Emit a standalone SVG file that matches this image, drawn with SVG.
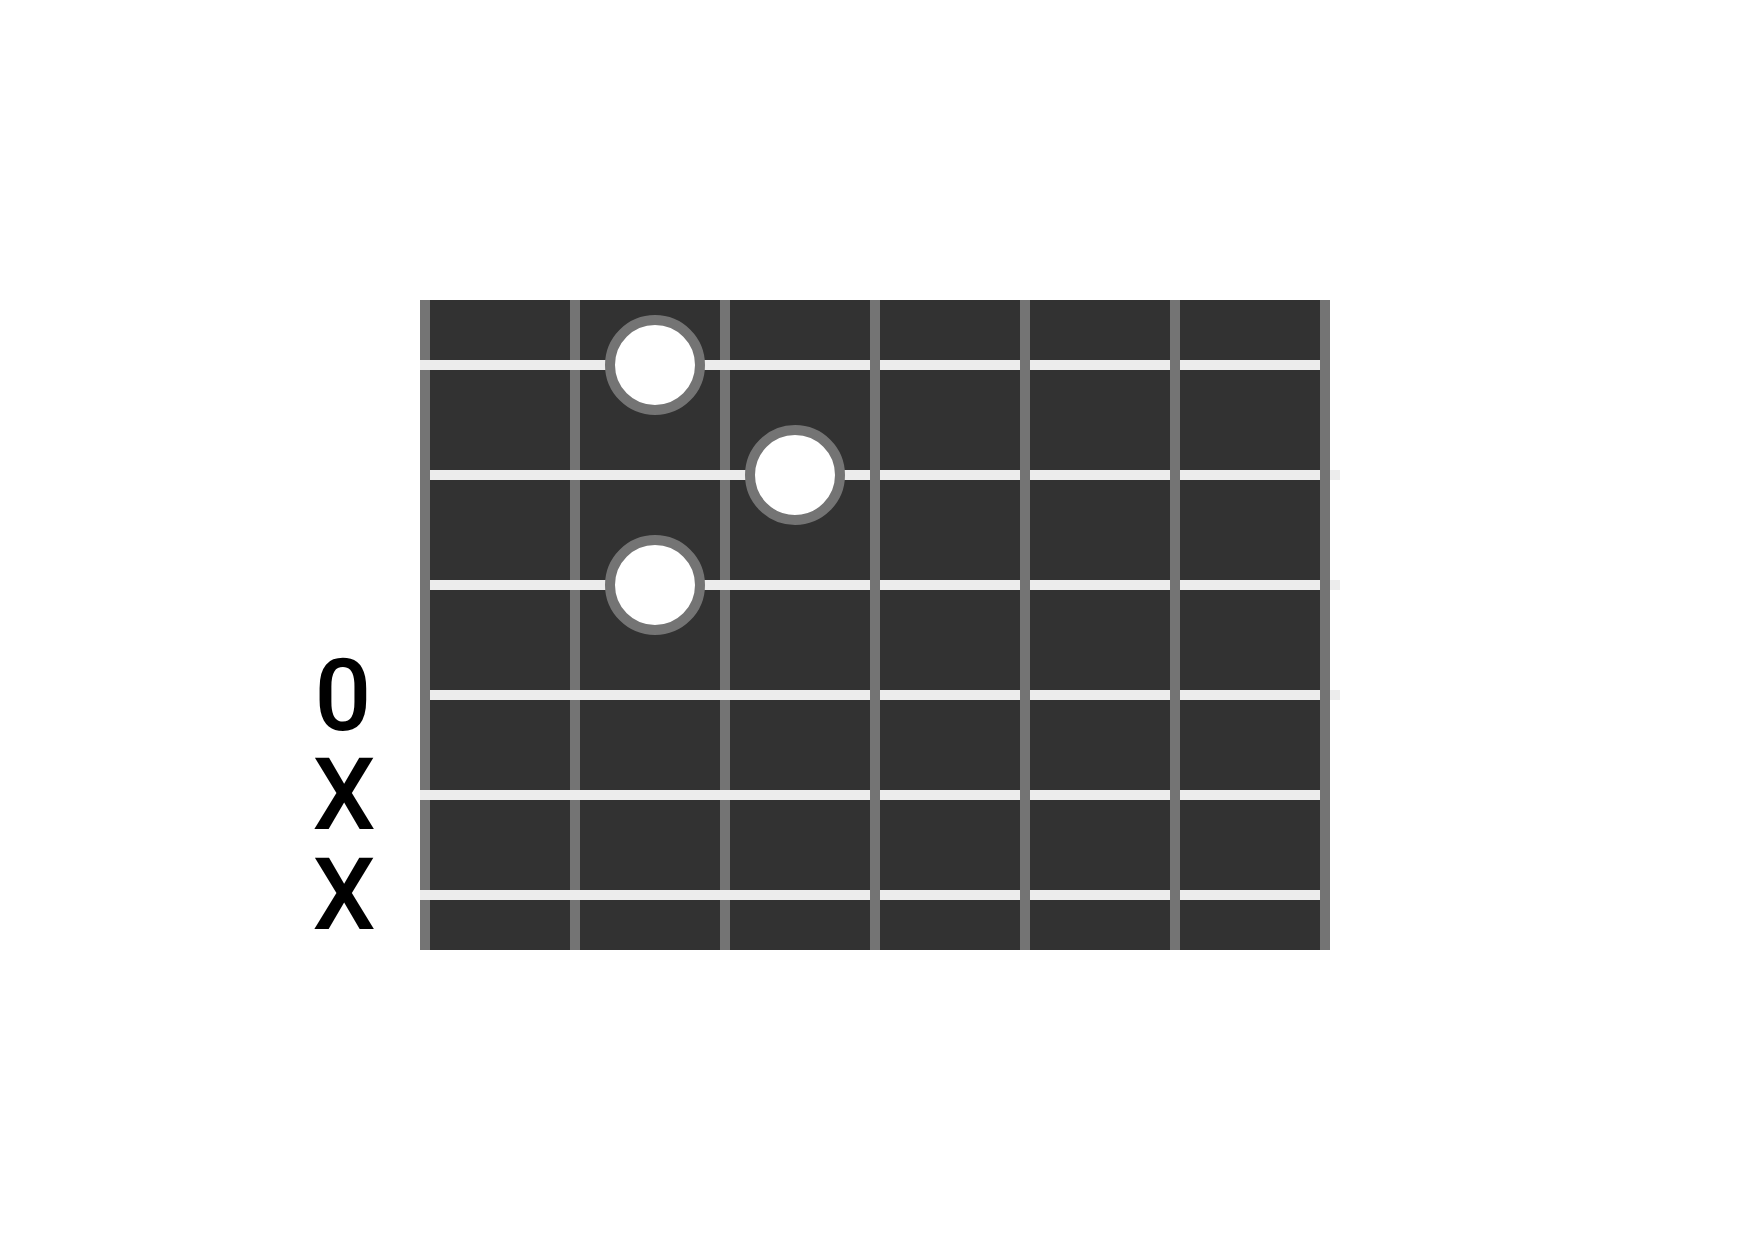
<svg xmlns="http://www.w3.org/2000/svg" width="1740" height="1240" viewBox="0 0 1740 1240">
<style>
.fret{stroke:#747474;stroke-width:10}
.str{stroke:#ececec;stroke-width:10}
.dot{fill:#ffffff;stroke:#747474;stroke-width:10}
.lbl{font-family:Roboto,"Liberation Sans",sans-serif;font-size:100px;font-weight:500;fill:#000000;text-anchor:middle}
</style>
<rect x="0" y="0" width="1740" height="1240" fill="#ffffff"/>
<g id="board">
<rect x="420" y="300" width="910" height="650" fill="#323232"/>
</g>
<g id="frets-front">
<line class="fret" x1="425" y1="300" x2="425" y2="950"/>
<line class="fret" x1="575" y1="300" x2="575" y2="950"/>
<line class="fret" x1="725" y1="300" x2="725" y2="950"/>
</g>
<g id="connectors">
<line class="str" x1="420" y1="365" x2="1320" y2="365"/>
<line class="str" x1="430" y1="475" x2="1340" y2="475"/>
<line class="str" x1="430" y1="585" x2="1340" y2="585"/>
<line class="str" x1="430" y1="695" x2="1340" y2="695"/>
<line class="str" x1="420" y1="795" x2="1320" y2="795"/>
<line class="str" x1="420" y1="895" x2="1320" y2="895"/>
</g>
<g id="frets-back">
<line class="fret" x1="875" y1="300" x2="875" y2="950"/>
<line class="fret" x1="1025" y1="300" x2="1025" y2="950"/>
<line class="fret" x1="1175" y1="300" x2="1175" y2="950"/>
<line class="fret" x1="1325" y1="300" x2="1325" y2="950"/>
</g>
<g id="dot1"><circle class="dot" cx="655" cy="365" r="45"/></g>
<g id="dot2"><circle class="dot" cx="795" cy="475" r="45"/></g>
<g id="dot3"><circle class="dot" cx="655" cy="585" r="45"/></g>
<g id="label-open"><text class="lbl" x="343" y="730">0</text></g>
<g id="label-mute1"><text class="lbl" x="344" y="829">X</text></g>
<g id="label-mute2"><text class="lbl" x="344" y="929">X</text></g>
</svg>
